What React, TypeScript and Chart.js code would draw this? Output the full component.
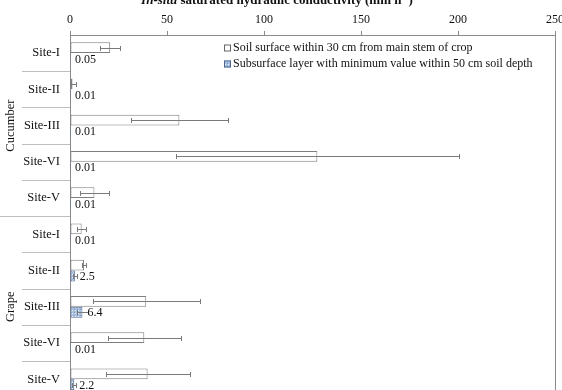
import React, { useEffect, useRef } from 'react';
import { Chart, registerables } from 'chart.js';
Chart.register(...registerables);

const categories = ['Site-I', 'Site-II', 'Site-III', 'Site-VI', 'Site-V', 'Site-I', 'Site-II', 'Site-III', 'Site-VI', 'Site-V'];
const groups = ['Cucumber', 'Grape'];
const groupSizes = [5, 5];
const surface = [20.7, 1.3, 56.4, 127.5, 12.6, 6.0, 7.2, 39.3, 38.3, 40.0];
const surfaceErr = [5.2, 1.7, 25, 73, 7.3, 2.4, 1.2, 27.7, 18.7, 21.7];
const subsurface = [0.05, 0.01, 0.01, 0.01, 0.01, 0.01, 2.5, 6.4, 0.01, 2.2];
const subsurfaceErr = [0, 0, 0, 0, 0, 0, 1, 3, 0, 1];
const legendLabels = [
  'Soil surface within 30 cm from main stem of crop',
  'Subsurface layer with minimum value within 50 cm soil depth',
];
const xTicks = { min: 0, max: 250, step: 50 };

const FONT = "'Liberation Serif', 'Times New Roman', serif";
const OFF = 20; // canvas is shifted up by this many px

function makePattern(ctx: CanvasRenderingContext2D) {
  const c = document.createElement('canvas');
  c.width = 3;
  c.height = 3;
  const p = c.getContext('2d')!;
  p.fillStyle = '#a8c0e0';
  p.fillRect(0, 0, 3, 3);
  p.fillStyle = '#e8f0fa';
  p.fillRect(0, 0, 1, 1);
  p.fillStyle = '#7f9cc6';
  p.fillRect(2, 2, 1, 1);
  return ctx.createPattern(c, 'repeat')!;
}

export default function App() {
  const ref = useRef<HTMLCanvasElement>(null);
  useEffect(() => {
    const canvas = ref.current!;
    const ctx0 = canvas.getContext('2d')!;
    const pattern = makePattern(ctx0);

    const custom = {
      id: 'custom',
      afterDatasetsDraw(chart: any) {
        const { ctx, chartArea, scales } = chart;
        const x = scales.x;
        const y = scales.y;
        ctx.save();
        // error bars
        const drawErr = (dsIndex: number, vals: number[], errs: number[]) => {
          const meta = chart.getDatasetMeta(dsIndex);
          meta.data.forEach((bar: any, i: number) => {
            const e = errs[i];
            if (!e) return;
            const v = vals[i];
            const x1 = Math.round(x.getPixelForValue(Math.max(0, v - e))) + 0.5;
            const x2 = Math.round(x.getPixelForValue(v + e)) + 0.5;
            const yy = Math.round(bar.y) + 0.5;
            ctx.strokeStyle = '#7a7a7a';
            ctx.lineWidth = 1;
            ctx.beginPath();
            ctx.moveTo(x1, yy);
            ctx.lineTo(x2, yy);
            ctx.moveTo(x1, yy - 2.5);
            ctx.lineTo(x1, yy + 2.5);
            ctx.moveTo(x2, yy - 2.5);
            ctx.lineTo(x2, yy + 2.5);
            ctx.stroke();
          });
        };
        drawErr(0, surface, surfaceErr);
        drawErr(1, subsurface, subsurfaceErr);

        // data labels for subsurface
        const meta1 = chart.getDatasetMeta(1);
        ctx.fillStyle = '#111';
        ctx.font = `12px ${FONT}`;
        ctx.textAlign = 'left';
        ctx.textBaseline = 'middle';
        meta1.data.forEach((bar: any, i: number) => {
          const px = x.getPixelForValue(subsurface[i]) + 5;
          ctx.fillText(String(subsurface[i]), px, bar.y + 1);
        });

        // right border
        ctx.strokeStyle = '#8a8a8a';
        ctx.beginPath();
        ctx.moveTo(chartArea.right + 0.5, chartArea.top);
        ctx.lineTo(chartArea.right + 0.5, chartArea.bottom);
        ctx.stroke();

        // category separators on the left
        ctx.strokeStyle = '#bdbdbd';
        let cum = 0;
        const groupEnds = groupSizes.map((s) => (cum += s));
        for (let i = 1; i < categories.length; i++) {
          const b = Math.round((y.getPixelForValue(i - 1) + y.getPixelForValue(i)) / 2) + 0.5;
          const isGroup = groupEnds.includes(i);
          ctx.beginPath();
          ctx.moveTo(isGroup ? 0 : 22, b);
          ctx.lineTo(chartArea.left, b);
          ctx.stroke();
        }

        // group labels
        ctx.fillStyle = '#111';
        ctx.font = `12.5px ${FONT}`;
        ctx.textAlign = 'center';
        ctx.textBaseline = 'middle';
        let start = 0;
        groups.forEach((g, gi) => {
          const end = start + groupSizes[gi] - 1;
          const cy = (y.getPixelForValue(start) + y.getPixelForValue(end)) / 2;
          ctx.save();
          ctx.translate(11, cy);
          ctx.rotate(-Math.PI / 2);
          ctx.fillText(g, 0, 0);
          ctx.restore();
          start = end + 1;
        });

        // title
        const parts = [
          { t: 'In-situ', f: `italic bold 13px ${FONT}`, dy: 0 },
          { t: ' saturated hydraulic conductivity (mm h', f: `bold 13px ${FONT}`, dy: 0 },
          { t: '-1', f: `bold 8.5px ${FONT}`, dy: -5 },
          { t: ')', f: `bold 13px ${FONT}`, dy: 0 },
        ];
        let total = 0;
        parts.forEach((p) => {
          ctx.font = p.f;
          total += ctx.measureText(p.t).width;
        });
        let tx = 277 - total / 2;
        ctx.textAlign = 'left';
        ctx.textBaseline = 'alphabetic';
        parts.forEach((p) => {
          ctx.font = p.f;
          ctx.fillText(p.t, tx, 4 + OFF + p.dy);
          tx += ctx.measureText(p.t).width;
        });

        // legend
        ctx.font = `12px ${FONT}`;
        ctx.textBaseline = 'middle';
        const ly = [48 + OFF, 64 + OFF];
        legendLabels.forEach((lbl, i) => {
          const yy = Math.round(ly[i]);
          ctx.fillStyle = i === 0 ? '#ffffff' : pattern;
          ctx.fillRect(224, yy - 3.5, 7, 7);
          ctx.strokeStyle = i === 0 ? '#666' : '#4a6690';
          ctx.strokeRect(224.5, yy - 3, 6, 6);
          ctx.fillStyle = '#111';
          ctx.fillText(lbl, 233, yy);
        });
        ctx.restore();
      },
    };

    const chart = new Chart(canvas, {
      type: 'bar',
      data: {
        labels: categories,
        datasets: [
          {
            label: legendLabels[0],
            data: surface,
            backgroundColor: '#ffffff',
            borderColor: '#7f7f7f',
            borderWidth: 1,
            borderSkipped: false,
            categoryPercentage: 0.6,
            barPercentage: 1,
          },
          {
            label: legendLabels[1],
            data: subsurface,
            backgroundColor: pattern as any,
            borderColor: '#4a6690',
            borderWidth: 1,
            borderSkipped: false,
            categoryPercentage: 0.6,
            barPercentage: 1,
          },
        ],
      },
      options: {
        indexAxis: 'y',
        responsive: false,
        animation: false,
        events: [],
        layout: { padding: { top: 30, right: 7, bottom: 2.6, left: 0 } },
        plugins: { legend: { display: false }, tooltip: { enabled: false }, title: { display: false } },
        scales: {
          x: {
            position: 'top',
            min: xTicks.min,
            max: xTicks.max,
            ticks: { stepSize: xTicks.step, color: '#111', font: { family: FONT, size: 12 }, padding: 4 },
            grid: { drawOnChartArea: false, drawTicks: true, tickLength: 4, color: '#8a8a8a' },
            border: { display: true, color: '#8a8a8a', width: 1 },
            afterFit: (s: any) => {
              s.height = 25;
              s.paddingLeft = 0;
              s.paddingRight = 0;
              s.paddingTop = 0;
              s.paddingBottom = 0;
            },
          },
          y: {
            position: 'left',
            ticks: { color: '#111', font: { family: FONT, size: 12.5 }, padding: 10, autoSkip: false },
            grid: { drawOnChartArea: false, drawTicks: false, color: '#8a8a8a' },
            border: { display: true, color: '#8a8a8a', width: 1 },
            afterFit: (s: any) => {
              s.width = 70;
              s.paddingLeft = 0;
              s.paddingRight = 0;
              s.paddingTop = 0;
              s.paddingBottom = 0;
            },
          },
        },
      },
      plugins: [custom],
    } as any);
    return () => chart.destroy();
  }, []);

  return (
    <div style={{ position: 'fixed', left: 0, top: -OFF, width: 562, height: 420, background: '#fff' }}>
      <canvas ref={ref} width={562} height={420} style={{ display: 'block' }} />
    </div>
  );
}
